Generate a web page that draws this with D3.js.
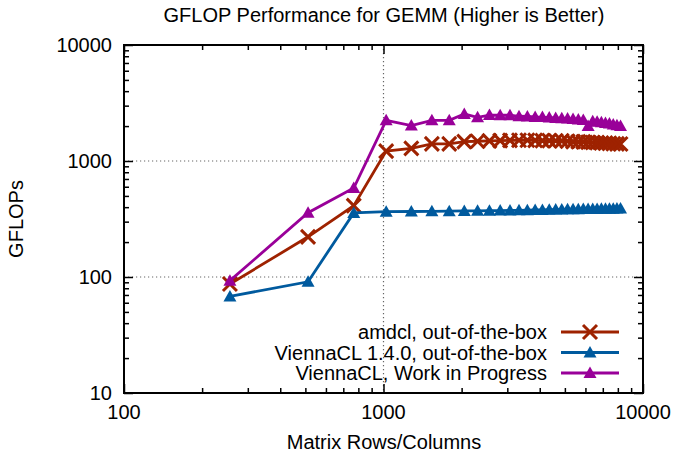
<!DOCTYPE html>
<html>
<head>
<meta charset="utf-8">
<script src="https://cdn.jsdelivr.net/npm/d3@7"></script>
<style>
  body { margin: 0; background: #fff; }
  text { font-family: "Liberation Sans", Arial, sans-serif; fill: #000; }
</style>
</head>
<body>
<div id="plots"></div>
<script>
// svg size
var width = 674;
var height = 453;
var margin = {top: 45, right: 31, bottom: 60, left: 124};

// matrix sizes (256 step)
var sizes = [256, 512, 768, 1024, 1280, 1536, 1792, 2048, 2304, 2560, 2816, 3072,
             3328, 3584, 3840, 4096, 4352, 4608, 4864, 5120, 5376, 5632, 5888, 6144,
             6400, 6656, 6912, 7168, 7424, 7680, 7936, 8192];

// series values, GFLOPs
var amdcl = [87, 222, 412, 1216, 1285, 1405, 1405, 1470, 1480, 1490, 1500, 1505,
             1510, 1510, 1505, 1500, 1500, 1495, 1490, 1480, 1470, 1465, 1460, 1450,
             1445, 1440, 1430, 1425, 1420, 1410, 1405, 1400];
var vcl140 = [68, 91, 357, 366, 367, 368, 369, 371, 372, 373, 374, 375,
              376, 377, 378, 379, 380, 381, 382, 383, 383, 384, 385, 385,
              386, 386, 387, 387, 388, 388, 389, 389];
var vclWip = [93, 358, 585, 2240, 2020, 2240, 2240, 2540, 2380, 2490, 2480, 2480,
              2430, 2420, 2400, 2390, 2370, 2350, 2340, 2320, 2300, 2280, 2260, 2000,
              2200, 2180, 2160, 2130, 2100, 2060, 2030, 2000];

var seriesNames = ["amdcl, out-of-the-box", "ViennaCL 1.4.0, out-of-the-box", "ViennaCL, Work in Progress"];
var seriesColors = ["#9e2200", "#005a9e", "#990099"];
var seriesMarkers = ["cross", "triangle", "triangle"];
var seriesValues = [amdcl, vcl140, vclWip];

// tick labels
var xMajor = [100, 1000, 10000];
var yMajor = [10, 100, 1000, 10000];

var plotW = width - margin.left - margin.right;
var plotH = height - margin.top - margin.bottom;

var svg = d3.select("#plots")
  .append("svg")
  .attr("width", width)
  .attr("height", height);

var x = d3.scaleLog().domain([100, 10000]).range([margin.left, margin.left + plotW]);
var y = d3.scaleLog().domain([10, 10000]).range([margin.top + plotH, margin.top]);

// minor ticks 2..9 in each decade
function minors(lo, hi) {
  var out = [];
  for (var d = lo; d < hi; d *= 10) {
    for (var m = 2; m <= 9; m++) out.push(d * m);
  }
  return out;
}
var xMinor = minors(100, 10000);
var yMinor = minors(10, 10000);

// grid lines (dotted, inner majors only)
svg.selectAll("line.gx")
  .data(xMajor.slice(1, -1))
  .enter()
  .append("line")
  .attr("x1", function(d) { return x(d); })
  .attr("x2", function(d) { return x(d); })
  .attr("y1", margin.top)
  .attr("y2", margin.top + plotH)
  .attr("stroke", "#666")
  .attr("stroke-width", 1.2)
  .attr("stroke-dasharray", "1.2,2.8");

svg.selectAll("line.gy")
  .data(yMajor.slice(1, -1))
  .enter()
  .append("line")
  .attr("x1", margin.left)
  .attr("x2", margin.left + plotW)
  .attr("y1", function(d) { return y(d); })
  .attr("y2", function(d) { return y(d); })
  .attr("stroke", "#666")
  .attr("stroke-width", 1.2)
  .attr("stroke-dasharray", "1.2,2.8");

// axes with inward ticks, mirrored on all four sides
function tickAxis(axisFn, scale, vals, size, tx, ty) {
  var g = svg.append("g")
    .attr("transform", "translate(" + tx + "," + ty + ")")
    .call(axisFn(scale).tickValues(vals).tickSize(size).tickFormat(""));
  g.select(".domain").remove();
  g.selectAll("line").attr("stroke", "#000").attr("stroke-width", 1.5);
}
tickAxis(d3.axisBottom, x, xMajor, -9, 0, margin.top + plotH);
tickAxis(d3.axisBottom, x, xMinor, -5, 0, margin.top + plotH);
tickAxis(d3.axisTop, x, xMajor, -9, 0, margin.top);
tickAxis(d3.axisTop, x, xMinor, -5, 0, margin.top);
tickAxis(d3.axisLeft, y, yMajor, -9, margin.left, 0);
tickAxis(d3.axisLeft, y, yMinor, -5, margin.left, 0);
tickAxis(d3.axisRight, y, yMajor, -9, margin.left + plotW, 0);
tickAxis(d3.axisRight, y, yMinor, -5, margin.left + plotW, 0);

// tick labels
svg.selectAll("text.xl")
  .data(xMajor)
  .enter()
  .append("text")
  .text(function(d) { return d; })
  .attr("x", function(d) { return x(d); })
  .attr("y", margin.top + plotH + 26)
  .attr("text-anchor", "middle")
  .attr("font-size", 20);

svg.selectAll("text.yl")
  .data(yMajor)
  .enter()
  .append("text")
  .text(function(d) { return d; })
  .attr("x", margin.left - 12)
  .attr("y", function(d) { return y(d) + 7; })
  .attr("text-anchor", "end")
  .attr("font-size", 20);

// series lines
var line = d3.line()
  .x(function(d) { return x(d[0]); })
  .y(function(d) { return y(d[1]); });

function marker(g, kind, color) {
  if (kind === "cross") {
    g.append("path")
      .attr("d", "M-7,-7L7,7M-7,7L7,-7")
      .attr("stroke", color)
      .attr("stroke-width", 3)
      .attr("fill", "none");
  } else {
    g.append("path")
      .attr("d", "M0,-6.5L6.5,5L-6.5,5Z")
      .attr("fill", color);
  }
}

seriesValues.forEach(function(vals, s) {
  var pts = sizes.map(function(d, i) { return [d, vals[i]]; });
  svg.append("path")
    .datum(pts)
    .attr("d", line)
    .attr("fill", "none")
    .attr("stroke", seriesColors[s])
    .attr("stroke-width", 2.8);
  svg.selectAll("g.m" + s)
    .data(pts)
    .enter()
    .append("g")
    .attr("transform", function(d) { return "translate(" + x(d[0]) + "," + y(d[1]) + ")"; })
    .each(function() { marker(d3.select(this), seriesMarkers[s], seriesColors[s]); });
});

// frame
svg.append("rect")
  .attr("x", margin.left)
  .attr("y", margin.top)
  .attr("width", plotW)
  .attr("height", plotH)
  .attr("fill", "none")
  .attr("stroke", "#000")
  .attr("stroke-width", 2);

// legend
seriesNames.forEach(function(name, s) {
  var ly = 332 + s * 20.5;
  svg.append("text")
    .text(name)
    .attr("x", 547)
    .attr("y", ly + 7)
    .attr("text-anchor", "end")
    .attr("font-size", 20);
  svg.append("line")
    .attr("x1", 561)
    .attr("x2", 619)
    .attr("y1", ly)
    .attr("y2", ly)
    .attr("stroke", seriesColors[s])
    .attr("stroke-width", 2.8);
  var g = svg.append("g").attr("transform", "translate(590," + ly + ")");
  marker(g, seriesMarkers[s], seriesColors[s]);
});

// title and axis labels
svg.append("text")
  .text("GFLOP Performance for GEMM (Higher is Better)")
  .attr("x", 384)
  .attr("y", 22)
  .attr("text-anchor", "middle")
  .attr("font-size", 20);

svg.append("text")
  .text("Matrix Rows/Columns")
  .attr("x", 384)
  .attr("y", 449)
  .attr("text-anchor", "middle")
  .attr("font-size", 20);

svg.append("text")
  .text("GFLOPs")
  .attr("transform", "translate(23,219) rotate(-90)")
  .attr("text-anchor", "middle")
  .attr("font-size", 20);
</script>
</body>
</html>
